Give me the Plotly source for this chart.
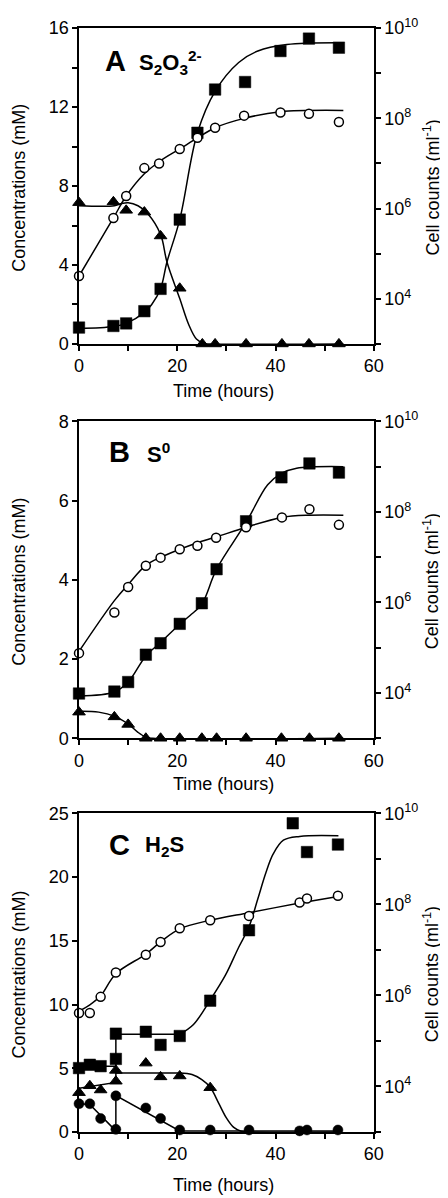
import plotly.graph_objects as go

# ---------------- Panel A : S2O3 2- ----------------
a_tri_t = [0, 7.0, 9.6, 13.3, 16.6, 20.5, 25.1, 27.7, 34.0, 41.3, 46.8, 52.9]
a_tri_c = [7.16, 7.2, 6.77, 6.68, 5.47, 2.82, 0, 0, 0, 0, 0, 0]
a_cir_t = [0, 7.0, 9.6, 13.3, 16.3, 20.5, 24.1, 27.7, 33.6, 41.0, 46.8, 52.9]
a_cir_n = [3.2e4, 6.2e5, 1.9e6, 7.9e6, 1.0e7, 2.1e7, 3.7e7, 6.2e7, 1.15e8, 1.35e8, 1.26e8, 8.3e7]
a_sq_t = [0, 7.0, 9.6, 13.3, 16.6, 20.5, 24.1, 27.7, 33.8, 41.0, 46.8, 52.9]
a_sq_c = [0.83, 0.91, 1.04, 1.66, 2.79, 6.30, 10.70, 12.89, 13.27, 14.84, 15.47, 15.01]
# fitted curves
a_trifit_t = [0, 7.2, 8.5, 10, 12, 14, 16.6, 17.9, 20.5, 22.3, 23.9, 25.5, 27, 53.8]
a_trifit_c = [7.0, 7.0, 7.1, 7.15, 7.0, 6.6, 5.55, 4.15, 2.3, 1.0, 0.25, 0.02, 0, 0]
a_cirfit_t = [0, 7, 9.6, 13.3, 16.6, 20.5, 24.1, 27.7, 33.6, 41, 53.8]
a_cirfit_n = [3.2e4, 6.2e5, 1.9e6, 5.9e6, 1.15e7, 2.1e7, 3.7e7, 6.2e7, 1.0e8, 1.4e8, 1.5e8]
a_sqfit_t = [0, 7, 9.6, 13.3, 14.8, 16.6, 17.9, 20.5, 24.1, 27.7, 32.5, 36.4, 42.3, 53.8]
a_sqfit_c = [0.78, 0.88, 1.04, 1.6, 2.0, 2.8, 4.15, 6.3, 10.7, 12.8, 14.26, 14.84, 15.17, 15.26]

# ---------------- Panel B : S0 ----------------
b_tri_t = [0, 7.2, 10, 13.6, 16.6, 20.5, 25, 28, 34, 41.2, 46.9, 52.9]
b_tri_c = [0.66, 0.54, 0.35, 0, 0, 0, 0, 0, 0, 0, 0, 0]
b_cir_t = [0, 7.2, 10, 13.6, 16.6, 20.5, 24.1, 27.9, 34, 41.3, 46.9, 52.9]
b_cir_n = [7.6e4, 6.0e5, 2.2e6, 6.5e6, 9.8e6, 1.5e7, 1.8e7, 2.7e7, 4.6e7, 7.6e7, 1.15e8, 5.2e7]
b_sq_t = [0, 7.2, 10, 13.6, 16.6, 20.5, 25, 28, 34, 41.2, 46.9, 52.9]
b_sq_c = [1.13, 1.18, 1.42, 2.11, 2.40, 2.89, 3.41, 4.27, 5.48, 6.59, 6.94, 6.71]
b_trifit_t = [0, 4, 7.2, 10, 12, 13.6, 15, 53.8]
b_trifit_c = [0.68, 0.66, 0.56, 0.36, 0.15, 0.03, 0, 0]
b_cirfit_t = [0, 7.2, 10, 13.6, 16.6, 20.5, 24.1, 27.9, 34, 41.3, 46.9, 53.8]
b_cirfit_n = [8.3e4, 1.1e6, 2.5e6, 6.6e6, 1.0e7, 1.5e7, 2.1e7, 2.8e7, 4.6e7, 7.6e7, 8.5e7, 8.5e7]
b_sqfit_t = [0, 7.2, 10, 13.6, 16.6, 20.5, 22.6, 25, 28, 34, 38.4, 41.2, 44.3, 53.8]
b_sqfit_c = [1.07, 1.17, 1.42, 2.08, 2.42, 2.88, 3.10, 3.39, 4.27, 5.45, 6.40, 6.69, 6.82, 6.86]

# ---------------- Panel C : H2S ----------------
c_cir_t = [0, 2.2, 4.4, 7.5, 13.6, 16.6, 20.5, 26.7, 34.6, 44.9, 46.4, 52.7]
c_cir_n = [4.1e5, 4.1e5, 9.3e5, 3.2e6, 7.8e6, 1.5e7, 3.0e7, 4.5e7, 5.6e7, 1.1e8, 1.35e8, 1.55e8]
c_sq_t = [0, 2.2, 4.4, 7.5, 7.5, 13.6, 16.6, 20.5, 26.7, 34.6, 43.5, 46.4, 52.7]
c_sq_c = [5.01, 5.27, 5.16, 5.73, 7.71, 7.86, 6.83, 7.53, 10.30, 15.83, 24.23, 21.97, 22.56]
c_tri_t = [0, 2.2, 4.4, 7.5, 7.5, 13.6, 16.6, 20.5, 26.7]
c_tri_c = [3.08, 3.62, 3.29, 3.98, 4.83, 5.40, 4.32, 4.39, 3.47]
c_dot_t = [0, 2.2, 4.4, 7.5, 7.5, 13.6, 16.6, 20.5, 26.7, 34.6, 44.9, 46.4, 52.7]
c_dot_c = [2.21, 2.21, 1.05, 0.2, 2.83, 1.88, 1.05, 0.15, 0.15, 0.15, 0.08, 0.15, 0.15]
c_cirfit_t = [0, 2.2, 4.4, 7.5, 13.6, 16.6, 20.5, 26.7, 34.6, 44.9, 52.7]
c_cirfit_n = [4.5e5, 6.2e5, 9.8e5, 3.0e6, 8.1e6, 1.5e7, 2.9e7, 4.5e7, 6.6e7, 1.07e8, 1.5e8]
c_sqlin_t = [0, 7.5, 7.5, 20.5]
c_sqlin_c = [5.16, 5.16, 7.66, 7.66]
c_sqfit_t = [20.5, 23.3, 26.7, 29.8, 32.5, 34.6, 36.4, 38, 39.5, 41.6, 44.9, 52.8]
c_sqfit_c = [7.66, 8.43, 10.35, 12.3, 14.5, 16.1, 18.3, 20.3, 21.8, 22.9, 23.2, 23.25]
c_trilin_t = [0, 7.5, 7.5, 20.5]
c_trilin_c = [3.42, 3.88, 4.62, 4.62]
c_trifit_t = [20.5, 23, 25, 26.7, 28.5, 30, 31.5, 33, 34.6, 52.8]
c_trifit_c = [4.62, 4.5, 4.1, 3.5, 2.2, 1.1, 0.35, 0.05, 0, 0]
c_dotlin_t = [0, 2.2, 7.5, 7.5, 20.5, 52.7]
c_dotlin_c = [2.21, 2.15, 0.08, 2.85, 0.08, 0.08]

# axis tick definitions
x_major = [0, 20, 40, 60]
x_minor = [10, 30, 50]
a_ymajor = [0, 4, 8, 12, 16]
a_yminor = [2, 6, 10, 14]
b_ymajor = [0, 2, 4, 6, 8]
c_ymajor = [0, 5, 10, 15, 20, 25]
r_major = [1e4, 1e6, 1e8, 1e10]
r_text = ["10<sup>4</sup>", "10<sup>6</sup>", "10<sup>8</sup>", "10<sup>10</sup>"]
r_minor = [1e3, 1e5, 1e7, 1e9]

W, H = 448, 1198
FONT = "Liberation Sans, Arial, sans-serif"
BLACK = "#000000"

x0, x1 = 68.3, 373.3
panels_px = [(8.3, 330.0), (409.0, 731.7), (808.3, 1132.7)]

fig = go.Figure()


def line(t, v, xa, ya, shape="spline"):
    fig.add_trace(go.Scatter(x=t, y=v, xaxis=xa, yaxis=ya, mode="lines",
                             line=dict(color=BLACK, width=1.5, shape=shape, smoothing=1.0),
                             cliponaxis=False, showlegend=False, hoverinfo="skip"))


def pts(t, v, xa, ya, symbol, size, fill, lw=1.3):
    fig.add_trace(go.Scatter(x=t, y=v, xaxis=xa, yaxis=ya, mode="markers",
                             marker=dict(symbol=symbol, size=size, color=fill,
                                         line=dict(color=BLACK, width=lw)),
                             cliponaxis=False, showlegend=False))


# Panel A
line(a_trifit_t, a_trifit_c, "x", "y")
line(a_sqfit_t, a_sqfit_c, "x", "y")
line(a_cirfit_t, a_cirfit_n, "x", "y2")
pts(a_tri_t, a_tri_c, "x", "y", "triangle-up", 11, BLACK, 1)
pts(a_sq_t, a_sq_c, "x", "y", "square", 11.5, BLACK, 0.5)
pts(a_cir_t, a_cir_n, "x", "y2", "circle", 9, "white", 1.5)

# Panel B
line(b_trifit_t, b_trifit_c, "x2", "y3")
line(b_sqfit_t, b_sqfit_c, "x2", "y3")
line(b_cirfit_t, b_cirfit_n, "x2", "y4")
pts(b_tri_t, b_tri_c, "x2", "y3", "triangle-up", 11, BLACK, 1)
pts(b_sq_t, b_sq_c, "x2", "y3", "square", 11.5, BLACK, 0.5)
pts(b_cir_t, b_cir_n, "x2", "y4", "circle", 9, "white", 1.5)

# Panel C
line(c_sqlin_t, c_sqlin_c, "x3", "y5", "linear")
line(c_sqfit_t, c_sqfit_c, "x3", "y5")
line(c_trilin_t, c_trilin_c, "x3", "y5", "linear")
line(c_trifit_t, c_trifit_c, "x3", "y5")
line(c_dotlin_t, c_dotlin_c, "x3", "y5", "linear")
line(c_cirfit_t, c_cirfit_n, "x3", "y6")
pts(c_tri_t, c_tri_c, "x3", "y5", "triangle-up", 11, BLACK, 1)
pts(c_sq_t, c_sq_c, "x3", "y5", "square", 11.5, BLACK, 0.5)
pts(c_dot_t, c_dot_c, "x3", "y5", "circle", 10, BLACK, 0.5)
pts(c_cir_t, c_cir_n, "x3", "y6", "circle", 9, "white", 1.5)

tick_common = dict(ticks="outside", ticklen=5, tickwidth=1.5, tickcolor=BLACK)
TICKFONT = dict(family=FONT, size=18, color=BLACK)
common = dict(showline=True, linecolor=BLACK, linewidth=1.5, showgrid=False,
              zeroline=False, tickfont=TICKFONT, **tick_common)


def minor(vals):
    return dict(tickmode="array", tickvals=vals, showgrid=False, **tick_common)


left_cfg = [
    dict(range=[0, 16], tickvals=a_ymajor, ticktext=[str(v) for v in a_ymajor], minor=minor(a_yminor)),
    dict(range=[0, 8], tickvals=b_ymajor, ticktext=[str(v) for v in b_ymajor]),
    dict(range=[0, 25], tickvals=c_ymajor, ticktext=[str(v) for v in c_ymajor]),
]

layout = {}
for i, (top, bot) in enumerate(panels_px):
    xn = "xaxis" if i == 0 else f"xaxis{i+1}"
    xa = "x" if i == 0 else f"x{i+1}"
    yl = 2 * i + 1
    yr = 2 * i + 2
    yln = "yaxis" if yl == 1 else f"yaxis{yl}"
    yla = "y" if yl == 1 else f"y{yl}"
    dom = [1 - bot / H, 1 - top / H]
    layout[xn] = dict(domain=[x0 / W, x1 / W], anchor=yla, range=[0, 60], mirror=True,
                      tickmode="array", tickvals=x_major, ticktext=[str(v) for v in x_major],
                      minor=minor(x_minor), **common)
    layout[yln] = dict(domain=dom, anchor=xa, tickmode="array", **left_cfg[i], **common)
    layout[f"yaxis{yr}"] = dict(overlaying=yla, anchor=xa, side="right", type="log",
                                range=[3, 10], tickmode="array", tickvals=r_major, ticktext=r_text,
                                minor=minor(r_minor), **common)

fig.update_layout(**layout)

ann = []
titles = [("A", "S<sub>2</sub>O<sub>3</sub><sup>2-</sup>", 93, 128, 42),
          ("B", "S<sup>0</sup>", 97, 137, 440),
          ("C", "H<sub>2</sub>S", 97, 135, 840)]
xtitle_y = [378, 778, 1187]
for i, (top, bot) in enumerate(panels_px):
    L, sub, lx, sx, ly = titles[i]
    ann.append(dict(text=f"<b>{L}</b>", x=lx / W, y=1 - ly / H, xref="paper", yref="paper",
                    xanchor="left", yanchor="middle", showarrow=False,
                    font=dict(family=FONT, size=29, color=BLACK)))
    ann.append(dict(text=f"<b>{sub}</b>", x=sx / W, y=1 - (ly + 1) / H, xref="paper", yref="paper",
                    xanchor="left", yanchor="middle", showarrow=False,
                    font=dict(family=FONT, size=22, color=BLACK)))
    mid = (top + bot) / 2 + 2
    ann.append(dict(text="Concentrations (mM)", x=6 / W, y=1 - mid / H, xref="paper", yref="paper",
                    xanchor="center", yanchor="middle", textangle=-90, showarrow=False,
                    font=dict(family=FONT, size=18, color=BLACK)))
    ann.append(dict(text="Cell counts (ml<sup>-1</sup>)", x=433 / W, y=1 - mid / H, xref="paper",
                    yref="paper", xanchor="center", yanchor="middle", textangle=-90, showarrow=False,
                    font=dict(family=FONT, size=18, color=BLACK)))
    ann.append(dict(text="Time (hours)", x=((x0 + x1) / 2 - 3) / W, y=1 - xtitle_y[i] / H,
                    xref="paper", yref="paper", xanchor="center", yanchor="middle", showarrow=False,
                    font=dict(family=FONT, size=18, color=BLACK)))

fig.update_layout(width=W, height=H, margin=dict(l=0, r=0, t=0, b=0),
                  paper_bgcolor="white", plot_bgcolor="white", annotations=ann,
                  font=dict(family=FONT, size=18, color=BLACK), showlegend=False)

fig.write_html("out.html")
